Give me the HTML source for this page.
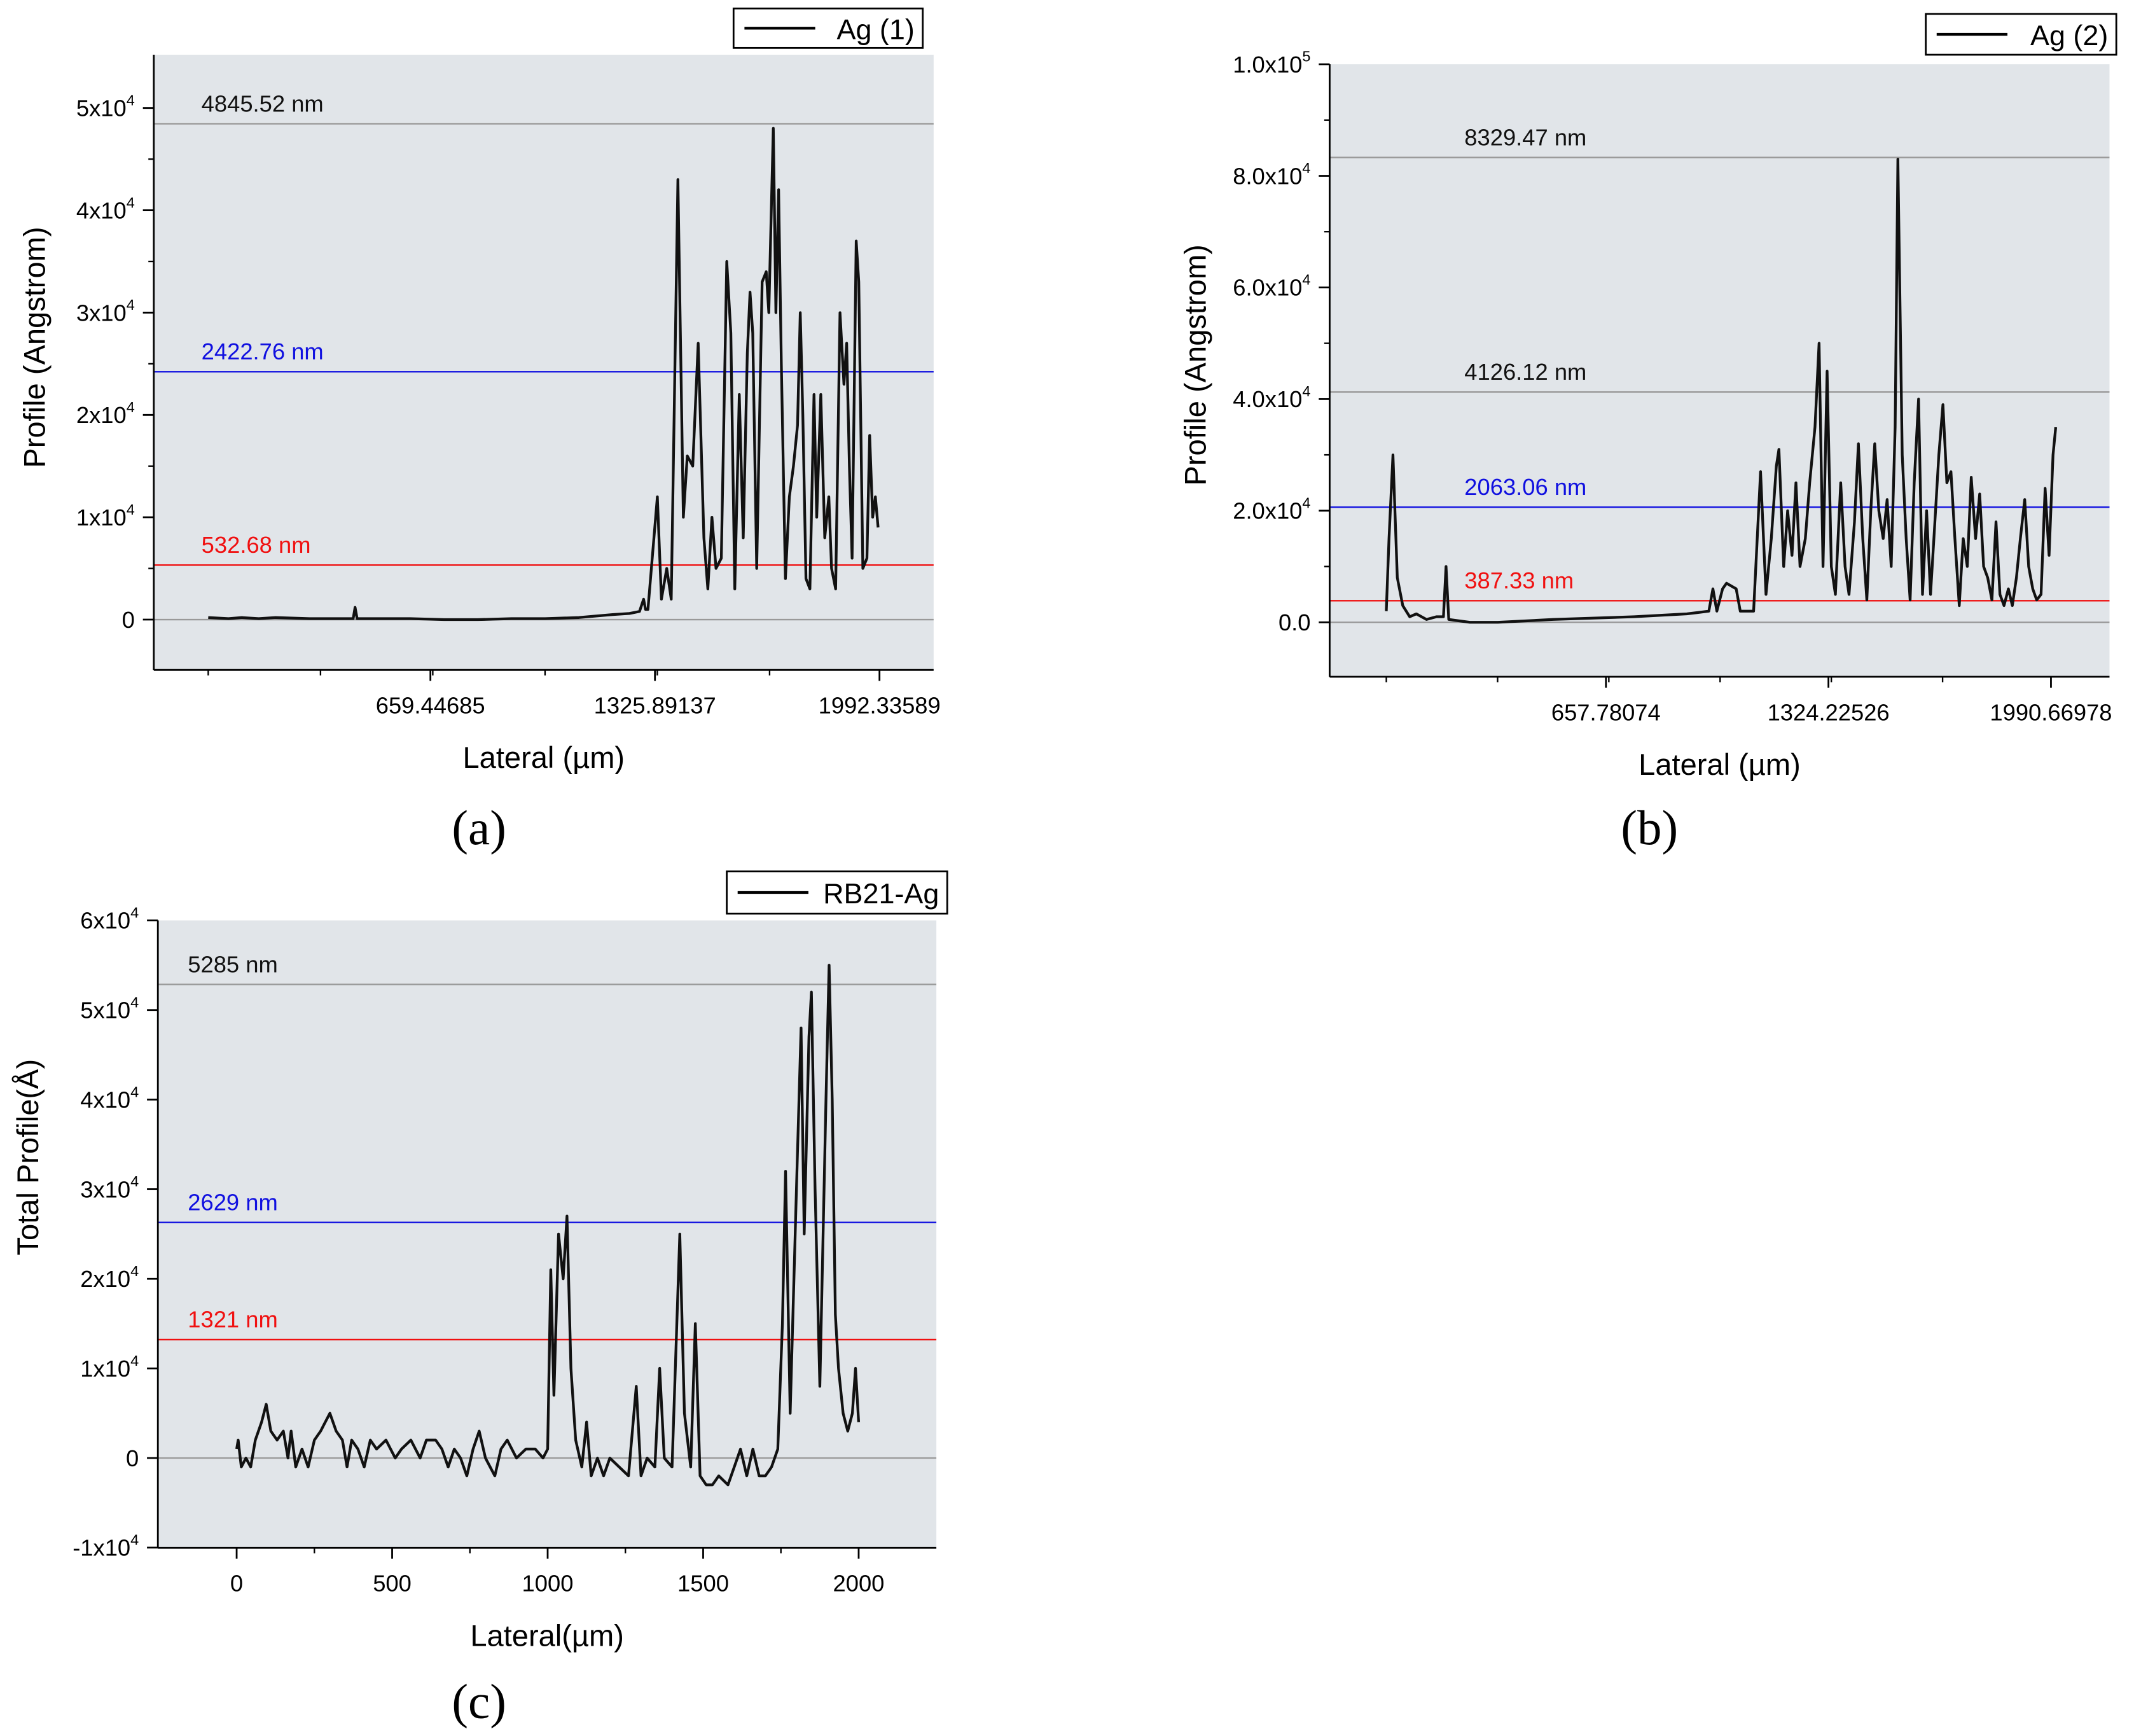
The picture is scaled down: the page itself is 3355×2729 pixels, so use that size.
<!DOCTYPE html>
<html><head><meta charset="utf-8"><style>
html,body{margin:0;padding:0;background:#fff}
svg{display:block}
text{font-family:"Liberation Sans",sans-serif}
text.serif{font-family:"Liberation Serif",serif}
</style></head><body>
<svg id="s" width="3355" height="2729" viewBox="0 0 1568 1275"></svg>
<script>
// Panel (a) data (x in µm, y in 1e4 Å)
const aX=[0,60,100,150,200,300,400,430,436,442,500,600,700,800,900,1000,1100,1200,1250,1280,1292,1298,1305,1333,1345,1361,1374,1394,1410,1422,1438,1454,1471,1483,1495,1507,1523,1539,1551,1563,1576,1588,1600,1608,1616,1628,1644,1656,1664,1677,1685,1693,1701,1713,1725,1737,1749,1757,1765,1774,1786,1798,1806,1818,1830,1842,1850,1862,1875,1887,1895,1903,1911,1923,1931,1943,1955,1963,1972,1980,1988];
const aY=[0.02,0.01,0.02,0.01,0.02,0.01,0.01,0.01,0.12,0.01,0.01,0.01,0,0,0.01,0.01,0.02,0.05,0.06,0.08,0.2,0.1,0.1,1.2,0.2,0.5,0.2,4.3,1.0,1.6,1.5,2.7,0.8,0.3,1.0,0.5,0.6,3.5,2.8,0.3,2.2,0.8,2.6,3.2,2.8,0.5,3.3,3.4,3.0,4.8,3.0,4.2,2.5,0.4,1.2,1.5,1.9,3.0,2.0,0.4,0.3,2.2,1.0,2.2,0.8,1.2,0.5,0.3,3.0,2.3,2.7,1.5,0.6,3.7,3.3,0.5,0.6,1.8,1.0,1.2,0.9];
const aLines=[4.84552,2.42276,0.53268,0];
const aLineLabels=["4845.52 nm","2422.76 nm","532.68 nm",""];
const aXTicks=[659.44685,1325.89137,1992.33589];
const aYTicks=[0,1,2,3,4,5];
// Panel (b)
const bX=[0,8,20,33,49,70,90,120,150,171,179,187,250,334,500,742,900,966,978,990,1007,1019,1048,1060,1100,1121,1137,1153,1168,1176,1190,1202,1215,1227,1239,1255,1268,1284,1296,1308,1320,1333,1345,1361,1374,1386,1402,1414,1427,1439,1451,1463,1475,1488,1500,1512,1524,1532,1545,1557,1569,1581,1594,1606,1618,1630,1643,1655,1667,1679,1691,1703,1716,1728,1740,1752,1765,1777,1789,1801,1814,1826,1838,1850,1863,1875,1887,1899,1912,1924,1936,1948,1961,1973,1985,1997,2005];
const bY=[0.2,1.5,3.0,0.8,0.3,0.1,0.15,0.05,0.1,0.1,1.0,0.05,0,0,0.05,0.1,0.15,0.2,0.6,0.2,0.6,0.7,0.6,0.2,0.2,2.7,0.5,1.5,2.8,3.1,1.0,2.0,1.2,2.5,1.0,1.5,2.5,3.5,5.0,1.0,4.5,1.0,0.5,2.5,1.0,0.5,1.8,3.2,1.5,0.4,2.0,3.2,2.0,1.5,2.2,1.0,3.5,8.3,3.0,1.5,0.4,2.5,4.0,0.5,2.0,0.5,1.8,3.0,3.9,2.5,2.7,1.5,0.3,1.5,1.0,2.6,1.5,2.3,1.0,0.8,0.4,1.8,0.5,0.3,0.6,0.3,0.8,1.5,2.2,1.0,0.6,0.4,0.5,2.4,1.2,3.0,3.5];
const bLines=[8.329,4.126,2.063,0.387,0];
const bLineLabels=["8329.47 nm","4126.12 nm","2063.06 nm","387.33 nm",""];
const bXTicks=[657.78074,1324.22526,1990.66978];
const bYTicks=[0,2,4,6,8,10];
const bYTickLabels=["0.0","2.0x10","4.0x10","6.0x10","8.0x10","1.0x10"];
const bYTickExp=["","4","4","4","4","5"];
// Panel (c)
const cX=[0,5,15,30,45,60,80,95,110,130,150,165,175,190,210,230,250,270,285,300,320,340,355,370,390,410,430,450,480,510,530,560,590,610,640,660,680,700,720,740,760,780,800,830,850,870,900,930,960,985,1000,1010,1020,1035,1050,1062,1075,1090,1110,1125,1140,1160,1180,1200,1230,1260,1285,1300,1320,1345,1360,1375,1400,1425,1440,1460,1475,1490,1510,1530,1550,1580,1600,1620,1640,1660,1680,1700,1720,1740,1755,1765,1780,1800,1815,1825,1840,1848,1860,1875,1895,1905,1915,1925,1935,1950,1965,1980,1990,2000];
const cY=[0.1,0.2,-0.1,0,-0.1,0.2,0.4,0.6,0.3,0.2,0.3,0,0.3,-0.1,0.1,-0.1,0.2,0.3,0.4,0.5,0.3,0.2,-0.1,0.2,0.1,-0.1,0.2,0.1,0.2,0,0.1,0.2,0,0.2,0.2,0.1,-0.1,0.1,0,-0.2,0.1,0.3,0,-0.2,0.1,0.2,0,0.1,0.1,0,0.1,2.1,0.7,2.5,2.0,2.7,1.0,0.2,-0.1,0.4,-0.2,0,-0.2,0,-0.1,-0.2,0.8,-0.2,0,-0.1,1.0,0,-0.1,2.5,0.5,-0.1,1.5,-0.2,-0.3,-0.3,-0.2,-0.3,-0.1,0.1,-0.2,0.1,-0.2,-0.2,-0.1,0.1,1.5,3.2,0.5,3.0,4.8,2.5,4.7,5.2,3.0,0.8,4.0,5.5,4.0,1.6,1.0,0.5,0.3,0.5,1.0,0.4];
const cLines=[5.285,2.629,1.321,0];
const cLineLabels=["5285 nm","2629 nm","1321 nm",""];
const cXTicks=[0,500,1000,1500,2000];
const cYTicks=[-1,0,1,2,3,4,5,6];

const NS="http://www.w3.org/2000/svg";
const svg=document.getElementById('s');
function mk(tag,attrs,parent,txt){const e=document.createElementNS(NS,tag);for(const k in attrs)e.setAttribute(k,attrs[k]);if(txt!==undefined)e.textContent=txt;(parent||svg).appendChild(e);return e;}

function panel(p){
  const g=mk('g',{});
  
  
  const sx=v=>p.x0+(v-p.xmin)/(p.xmax-p.xmin)*(p.x1-p.x0);
  const sy=v=>p.y1-(v-p.ymin)/(p.ymax-p.ymin)*(p.y1-p.y0);
  const bg=mk('rect',{x:p.x0,y:p.y0,width:p.x1-p.x0,height:p.y1-p.y0,fill:'#e1e5e9'},g);
  
  p.lines.forEach((v,i)=>{
    const col=p.lineColors[i];
    const l=mk('line',{x1:p.x0,x2:p.x1,y1:sy(v),y2:sy(v),stroke:col,'stroke-width':1.1},g);
    
    if(p.lineLabels[i]){
      const t=mk('text',{x:p.labelX,y:sy(v)-9,'font-size':17,fill:col==='#999'?'#111':col},g,p.lineLabels[i]);
      
    }
  });
  let d='';p.xs.forEach((x,i)=>{d+=(i?'L':'M')+sx(x).toFixed(1)+','+sy(p.ys[i]).toFixed(1);});
  const path=mk('path',{d:d,fill:'none',stroke:'#111','stroke-width':2,'stroke-linejoin':'round'},g);
  
  mk('line',{x1:p.x0,x2:p.x1,y1:p.y1,y2:p.y1,stroke:'#000','stroke-width':1.3},g);
  mk('line',{x1:p.x0,x2:p.x0,y1:p.y0,y2:p.y1,stroke:'#000','stroke-width':1.3},g);
  p.xTicks.forEach((v,i)=>{
    const X=sx(v);
    mk('line',{x1:X,x2:X,y1:p.y1,y2:p.y1+8,stroke:'#000','stroke-width':1.3},g);
    const t=mk('text',{x:X,y:p.y1+32,'font-size':17,'text-anchor':'middle'},g,String(v));
    
  });
  p.xMinor.forEach(v=>{const X=sx(v);mk('line',{x1:X,x2:X,y1:p.y1,y2:p.y1+4,stroke:'#000','stroke-width':1.1},g);});
  p.yTicks.forEach((v,i)=>{
    const Y=sy(v);
    mk('line',{x1:p.x0-8,x2:p.x0,y1:Y,y2:Y,stroke:'#000','stroke-width':1.3},g);
    const t=mk('text',{x:p.x0-14,y:Y+6,'font-size':17,'text-anchor':'end'},g);
    
    const lab=p.yLab(v,i);
    mk('tspan',{},t,lab[0]);
    if(lab[1]){mk('tspan',{dy:-8,'font-size':11},t,lab[1]);}
  });
  p.yMinor.forEach(v=>{const Y=sy(v);mk('line',{x1:p.x0-4,x2:p.x0,y1:Y,y2:Y,stroke:'#000','stroke-width':1.1},g);});
  const xt=mk('text',{x:(p.x0+p.x1)/2,y:p.y1+72,'font-size':22,'text-anchor':'middle'},g,p.xTitle);
  
  const yt=mk('text',{x:0,y:0,'font-size':22,'text-anchor':'middle',transform:`translate(${p.yTitleX},${p.yTitleY}) rotate(-90)`},g,p.yTitle);
  
  const L=p.legend;
  const lg=mk('g',{},g);
  mk('rect',{x:L[0],y:L[1],width:L[2],height:L[3],fill:'#fff',stroke:'#000','stroke-width':1.3},lg);
  mk('line',{x1:L[0]+8,x2:L[0]+60,y1:L[1]+L[3]/2,y2:L[1]+L[3]/2,stroke:'#000','stroke-width':2},lg);
  mk('text',{x:L[0]+L[2]-6,y:L[1]+L[3]/2+8,'font-size':21,'text-anchor':'end'},lg,p.legendText);
  const cap=mk('text',{x:p.cap[0],y:p.cap[1],'font-size':36,'text-anchor':'middle','class':'serif'},g,p.capText);
  
}
const step=666.44452;
function minorList(x0,st,n){const r=[];for(let i=0;i<n;i++)r.push(x0+i*st);return r;}
panel({name:'panel-a',x0:113,x1:686,y0:40,y1:492,xmin:-161.6,xmax:2153,ymin:-0.492,ymax:5.52,
  xs:aX,ys:aY,lines:aLines,lineLabels:aLineLabels,lineColors:['#999','#1010e0','#f01010','#999'],labelX:148,
  xTicks:aXTicks,xMinor:minorList(0,step/2,6),yTicks:aYTicks,yMinor:[0.5,1.5,2.5,3.5,4.5],
  yLab:v=>v===0?['0','']:[v+'x10','4'],xTitle:'Lateral (µm)',yTitle:'Profile (Angstrom)',yTitleX:33,yTitleY:255,
  legend:[539,6,139,29],legendText:'Ag (1)',cap:[352,620],capText:'(a)'});
panel({name:'panel-b',x0:977,x1:1550,y0:47,y1:497,xmin:-169.7,xmax:2166,ymin:-0.976,ymax:10,
  xs:bX,ys:bY,lines:bLines,lineLabels:bLineLabels,lineColors:['#999','#999','#1010e0','#f01010','#999'],labelX:1076,
  xTicks:bXTicks,xMinor:minorList(0,step/2,6),yTicks:bYTicks,yMinor:[1,3,5,7,9],
  yLab:(v,i)=>[bYTickLabels[i],bYTickExp[i]],xTitle:'Lateral (µm)',yTitle:'Profile (Angstrom)',yTitleX:886,yTitleY:268,
  legend:[1415,10,140,30],legendText:'Ag (2)',cap:[1212,620],capText:'(b)'});
panel({name:'panel-c',x0:116,x1:688,y0:676,y1:1137,xmin:-253.3,xmax:2249.8,ymin:-1.003,ymax:6.0,
  xs:cX,ys:cY,lines:cLines,lineLabels:cLineLabels,lineColors:['#999','#1010e0','#f01010','#999'],labelX:138,
  xTicks:cXTicks,xMinor:[250,750,1250,1750],yTicks:cYTicks,yMinor:[],
  yLab:v=>v===0?['0','']:[(v<0?'-1':v)+'x10','4'],xTitle:'Lateral(µm)',yTitle:'Total Profile(Å)',yTitleX:28,yTitleY:850,
  legend:[534,640,162,31],legendText:'RB21-Ag',cap:[352,1262],capText:'(c)'});
</script>
</body></html>
